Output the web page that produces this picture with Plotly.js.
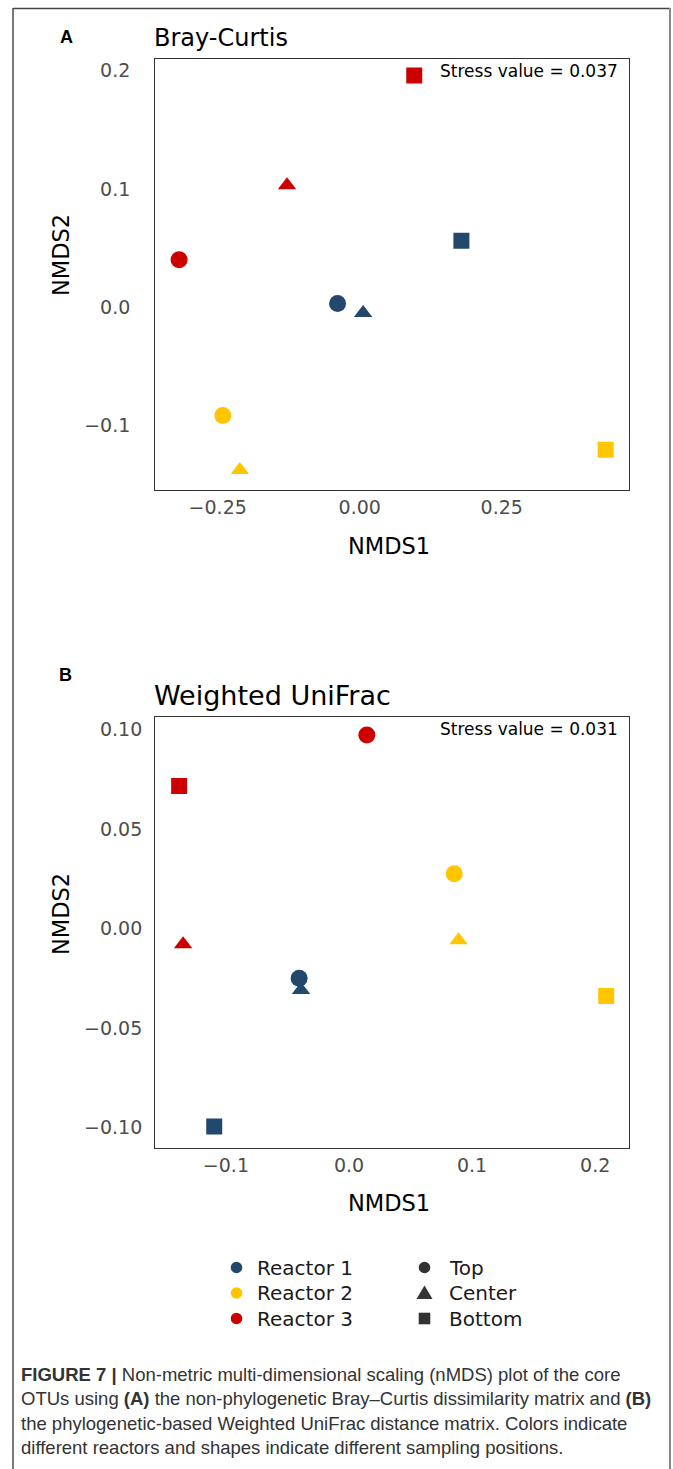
<!DOCTYPE html>
<html><head><meta charset="utf-8">
<script src="https://cdn.plot.ly/plotly-3.0.1.min.js"></script>
<style>html,body{margin:0;padding:0;background:#fff;} #chart{width:673px;height:1469px;}</style>
</head><body><div id="chart"></div>
<script>
// ---------- data ----------
const reactors = ['Reactor 1', 'Reactor 2', 'Reactor 3'];
const positions = ['Top', 'Center', 'Bottom'];

// Bray-Curtis NMDS coordinates (order: Top, Center, Bottom)
const bcR1x = [-0.039, 0.006, 0.179];
const bcR1y = [0.003, -0.005, 0.056];
const bcR2x = [-0.241, -0.211, 0.433];
const bcR2y = [-0.092, -0.138, -0.121];
const bcR3x = [-0.318, -0.128, 0.096];
const bcR3y = [0.040, 0.103, 0.196];

// Weighted UniFrac NMDS coordinates (order: Top, Center, Bottom)
const wuR1x = [-0.0405, -0.039, -0.1095];
const wuR1y = [-0.025, -0.031, -0.0996];
const wuR2x = [0.0855, 0.089, 0.209];
const wuR2y = [0.0275, -0.006, -0.034];
const wuR3x = [0.0145, -0.1348, -0.138];
const wuR3y = [0.0973, -0.008, 0.0716];

const bcStress = 0.037;
const wuStress = 0.031;

// ---------- style ----------
const W = 673, H = 1469;
const reactorColors = ['#23486d', '#ffc600', '#cc0000'];
const symbolOf = {Top: 'circle', Center: 'triangle-up', Bottom: 'square'};
const sizeOf = {Top: 17, Center: 16, Bottom: 16};
const px = v => v / W;
const py = v => 1 - v / H;

const bcX = [bcR1x, bcR2x, bcR3x], bcY = [bcR1y, bcR2y, bcR3y];
const wuX = [wuR1x, wuR2x, wuR3x], wuY = [wuR1y, wuR2y, wuR3y];

const traces = [];
function addPanel(X, Y, xa, ya) {
  reactors.forEach((r, i) => {
    traces.push({
      type: 'scatter', mode: 'markers', name: r, showlegend: false,
      x: X[i], y: Y[i], xaxis: xa, yaxis: ya,
      text: positions, hoverinfo: 'skip',
      marker: {
        color: reactorColors[i],
        opacity: 1,
        symbol: positions.map(p => symbolOf[p]),
        size: positions.map(p => sizeOf[p]),
        line: {width: 0}
      }
    });
  });
}
addPanel(bcX, bcY, 'x', 'y');
addPanel(wuX, wuY, 'x2', 'y2');

const tickFont = {family: 'DejaVu Sans', size: 19, color: '#4d4d4d'};
const axBase = {
  showline: true, mirror: true, linecolor: '#333333', linewidth: 1.3,
  showgrid: false, zeroline: false, ticks: '', tick0: 0,
  tickfont: tickFont, fixedrange: true
};

const xDom = [px(155.4), px(628.5)];
const layout = {
  width: W, height: H,
  margin: {l: 0, r: 0, t: 0, b: 0},
  paper_bgcolor: '#ffffff', plot_bgcolor: '#ffffff',
  showlegend: false,
  xaxis: Object.assign({}, axBase, {domain: xDom, anchor: 'y', range: [-0.3597, 0.4732], dtick: 0.25, tickformat: '.2f', ticklabelstandoff: 0}),
  yaxis: Object.assign({}, axBase, {domain: [py(490), py(59)], anchor: 'x', range: [-0.155, 0.210], dtick: 0.1, tickformat: '.1f', ticklabelstandoff: 20}),
  xaxis2: Object.assign({}, axBase, {domain: xDom, anchor: 'y2', range: [-0.1573, 0.2271], dtick: 0.1, tickformat: '.1f', ticklabelstandoff: 0}),
  yaxis2: Object.assign({}, axBase, {domain: [py(1148), py(717)], anchor: 'x2', range: [-0.1104, 0.1063], dtick: 0.05, tickformat: '.2f', ticklabelstandoff: 8}),
  shapes: [],
  annotations: []
};

// outer frame
layout.shapes.push(
  {type: 'line', xref: 'paper', yref: 'paper', x0: px(13), x1: px(13), y0: py(8), y1: py(1469), line: {color: '#222', width: 1.2}},
  {type: 'line', xref: 'paper', yref: 'paper', x0: px(13), x1: px(670), y0: py(8.5), y1: py(8.5), line: {color: '#444', width: 1.5}},
  {type: 'line', xref: 'paper', yref: 'paper', x0: px(670), x1: px(670), y0: py(8), y1: py(1469), line: {color: '#888', width: 2}}
);

function ann(text, x, y, opts) {
  layout.annotations.push(Object.assign({
    text: text, xref: 'paper', yref: 'paper', x: px(x), y: py(y),
    showarrow: false, xanchor: 'center', yanchor: 'middle',
    font: {family: 'DejaVu Sans', size: 19, color: '#000'}
  }, opts || {}));
}

// panel letters
ann('<b>A</b>', 66.5, 37, {font: {family: 'Liberation Sans, Arial', size: 18, color: '#000'}});
ann('<b>B</b>', 65, 675, {font: {family: 'Liberation Sans, Arial', size: 18, color: '#000'}});
// titles
ann('Bray-Curtis', 152, 37.5, {xanchor: 'left', font: {family: 'DejaVu Sans', size: 24, color: '#000'}});
ann('Weighted UniFrac', 152, 695.5, {xanchor: 'left', font: {family: 'DejaVu Sans', size: 27, color: '#000'}});
// stress values
ann('Stress value = ' + bcStress.toFixed(3), 620, 71, {xanchor: 'right', font: {family: 'DejaVu Sans', size: 17, color: '#000'}});
ann('Stress value = ' + wuStress.toFixed(3), 620, 729, {xanchor: 'right', font: {family: 'DejaVu Sans', size: 17, color: '#000'}});
// axis titles
const axTitleFont = {family: 'DejaVu Sans', size: 22.5, color: '#000'};
ann('NMDS1', 389, 546, {font: axTitleFont});
ann('NMDS1', 389, 1203, {font: axTitleFont});
ann('NMDS2', 61, 255, {font: axTitleFont, textangle: -90});
ann('NMDS2', 61, 914, {font: axTitleFont, textangle: -90});

// legend
const legRows = [1267.5, 1293, 1318.5];
const legFont = {family: 'DejaVu Sans', size: 20, color: '#1a1a1a'};
reactors.forEach((r, i) => {
  layout.shapes.push({type: 'circle', xref: 'paper', yref: 'paper', xsizemode: 'pixel', ysizemode: 'pixel',
    xanchor: px(236.5), yanchor: py(legRows[i]), x0: -5.8, x1: 5.8, y0: -5.8, y1: 5.8,
    fillcolor: reactorColors[i], line: {width: 0}});
  ann(r, 255, legRows[i], {xanchor: 'left', font: legFont});
});
const legGray = '#333333';
layout.shapes.push(
  {type: 'circle', xref: 'paper', yref: 'paper', xsizemode: 'pixel', ysizemode: 'pixel',
   xanchor: px(424.5), yanchor: py(legRows[0]), x0: -5.8, x1: 5.8, y0: -5.8, y1: 5.8, fillcolor: legGray, line: {width: 0}},
  {type: 'path', xref: 'paper', yref: 'paper', xsizemode: 'pixel', ysizemode: 'pixel',
   xanchor: px(424.5), yanchor: py(legRows[1]), path: 'M-8,-6 L8,-6 L0,7.5 Z', fillcolor: legGray, line: {width: 0}},
  {type: 'rect', xref: 'paper', yref: 'paper', xsizemode: 'pixel', ysizemode: 'pixel',
   xanchor: px(424.5), yanchor: py(legRows[2]), x0: -5.8, x1: 5.8, y0: -5.8, y1: 5.8, fillcolor: legGray, line: {width: 0}}
);
positions.forEach((p, i) => ann(p, 446.5, legRows[i], {xanchor: 'left', font: legFont}));

// caption
const capFont = {family: 'Liberation Sans, Arial', size: 18.5, color: '#333'};
const capLines = [
  '<b>FIGURE 7 |</b> Non-metric multi-dimensional scaling (nMDS) plot of the core',
  'OTUs using <b>(A)</b> the non-phylogenetic Bray–Curtis dissimilarity matrix and <b>(B)</b>',
  'the phylogenetic-based Weighted UniFrac distance matrix. Colors indicate',
  'different reactors and shapes indicate different sampling positions.'
];
const capY = [1374, 1398.5, 1423, 1447.5];
capLines.forEach((t, i) => ann(t, 19, capY[i], {xanchor: 'left', align: 'left', font: capFont}));

Plotly.newPlot('chart', traces, layout, {staticPlot: true, displayModeBar: false});
</script>
</body></html>
